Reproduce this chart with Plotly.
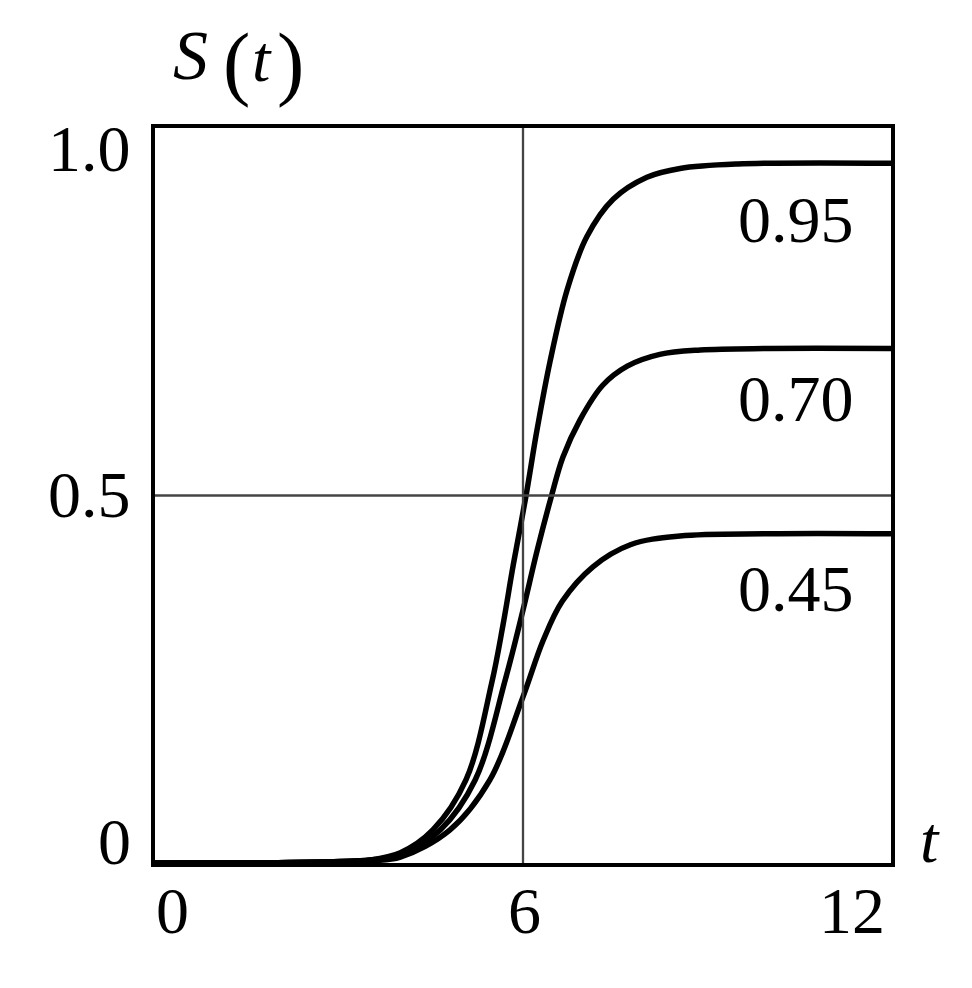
import plotly.graph_objects as go

# Curves (t, S(t))
t_095 = [0, 2, 3, 3.5, 4.0, 4.53, 5.07, 5.49, 5.67, 5.84, 6.05, 6.23, 6.44, 6.72, 7.04, 7.47, 8.02, 8.56, 9.5, 12]
s_095 = [0, 0.0005, 0.002, 0.004, 0.014, 0.045, 0.113, 0.245, 0.322, 0.405, 0.500, 0.590, 0.682, 0.780, 0.852, 0.903, 0.933, 0.945, 0.951, 0.952]

t_070 = [0, 2, 3, 3.5, 4.0, 4.65, 5.22, 5.71, 6.0, 6.23, 6.46, 6.65, 6.93, 7.30, 7.70, 8.23, 8.89, 10, 12]
s_070 = [0, 0.0005, 0.002, 0.004, 0.011, 0.045, 0.113, 0.249, 0.344, 0.425, 0.498, 0.552, 0.603, 0.650, 0.676, 0.692, 0.698, 0.700, 0.700]

t_045 = [0, 2, 3, 3.5, 4.0, 4.81, 5.46, 6.0, 6.33, 6.64, 7.14, 7.75, 8.56, 10, 12]
s_045 = [0, 0.0003, 0.0015, 0.003, 0.008, 0.045, 0.113, 0.226, 0.303, 0.356, 0.403, 0.433, 0.445, 0.448, 0.448]

curve_names = ["0.95", "0.70", "0.45"]

x_tick_vals = [0, 6, 12]
x_tick_text = ["0", "6", "12"]
y_tick_vals = [0, 0.5, 1.0]
y_tick_text = ["0", "0.5", "1.0"]

ref_t = 6
ref_s = 0.5

FONT = "Liberation Serif, Times New Roman, serif"
FS = 66

fig = go.Figure()
for tt, ss, nm in zip([t_095, t_070, t_045], [s_095, s_070, s_045], curve_names):
    fig.add_trace(go.Scatter(x=tt, y=ss, mode="lines", name=nm,
                             line=dict(color="black", width=5.5, shape="spline", smoothing=1.0),
                             showlegend=False, hoverinfo="skip"))

# reference lines
fig.add_shape(type="line", xref="x", yref="paper", x0=ref_t, x1=ref_t, y0=0, y1=1,
              line=dict(color="#444", width=2.3))
fig.add_shape(type="line", xref="paper", yref="y", x0=0, x1=1, y0=ref_s, y1=ref_s,
              line=dict(color="#444", width=2.3))

ann = []
# curve labels
label_pos = [(10.45, 0.876), (10.45, 0.632), (10.45, 0.374)]
for nm, (lx, ly) in zip(curve_names, label_pos):
    ann.append(dict(x=lx, y=ly, xref="x", yref="y", text=nm, showarrow=False,
                    font=dict(family=FONT, size=FS, color="black"), xanchor="center", yanchor="middle"))

# x tick labels
x_shifts = [17, 1, -39]
for v, txt, sh in zip(x_tick_vals, x_tick_text, x_shifts):
    ann.append(dict(x=v, y=0, xref="x", yref="paper", text=txt, showarrow=False,
                    font=dict(family=FONT, size=FS, color="black"), xanchor="center", yanchor="middle",
                    xshift=sh, yshift=-47))
# y tick labels
y_shifts = [22, 1, -20]
for v, txt, sh in zip(y_tick_vals, y_tick_text, y_shifts):
    ann.append(dict(x=0, y=v, xref="paper", yref="y", text=txt, showarrow=False,
                    font=dict(family=FONT, size=FS, color="black"), xanchor="right", yanchor="middle",
                    xshift=-22, yshift=sh))

# y-axis title S(t), built from pieces (large parentheses)
def px(xp, yp):
    return (xp - 155) / 736, (863 - yp) / 735

title_parts = [("<i>S</i>", 190, 56, 70), ("(", 236, 63, 82), ("<i>t</i>", 262, 59, 66), (")", 290, 63, 82)]
for txt, xp, yp, fs in title_parts:
    xx, yy = px(xp, yp)
    ann.append(dict(x=xx, y=yy, xref="paper", yref="paper", text=txt, showarrow=False,
                    font=dict(family=FONT, size=fs, color="black"), xanchor="center", yanchor="middle",
                    borderpad=0))

# x-axis title t
xx, yy = px(930, 839)
ann.append(dict(x=xx, y=yy, xref="paper", yref="paper", text="<i>t</i>", showarrow=False,
                font=dict(family=FONT, size=FS, color="black"), xanchor="center", yanchor="middle"))

fig.update_layout(
    width=964, height=980,
    margin=dict(l=147, r=81, t=120, b=125),
    paper_bgcolor="white", plot_bgcolor="white",
    annotations=ann,
    xaxis=dict(range=[0, 12], showgrid=False, zeroline=False, showticklabels=False,
               tickvals=x_tick_vals, ticks="",
               showline=True, linecolor="black", linewidth=3.5, mirror=True),
    yaxis=dict(range=[0, 1], showgrid=False, zeroline=False, showticklabels=False,
               tickvals=y_tick_vals, ticks="",
               showline=True, linecolor="black", linewidth=3.5, mirror=True),
)

fig.write_html("out.html")
